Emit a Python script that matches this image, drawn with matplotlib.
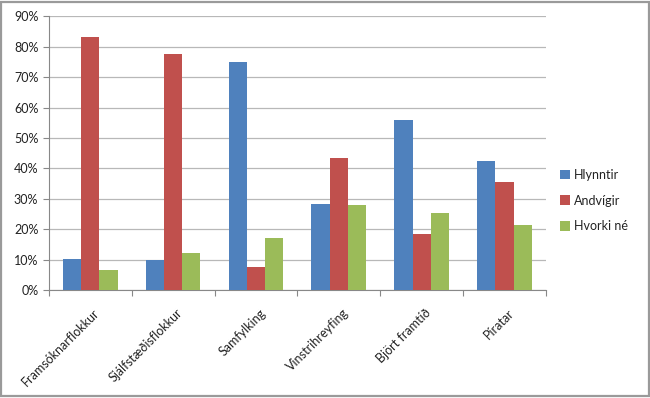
import matplotlib
matplotlib.use('Agg')
import matplotlib.pyplot as plt
import numpy as np
from matplotlib.patches import Rectangle
from matplotlib.ticker import PercentFormatter, MultipleLocator

plt.rcParams['font.family'] = ['Lato', 'DejaVu Sans']

flokkar = ["Framsóknarflokkur", "Sjálfstæðisflokkur", "Samfylking",
           "Vinstrihreyfing", "Björt framtíð", "Píratar"]
hlynntir = [10.2, 9.9, 75.1, 28.4, 55.9, 42.6]
andvigir = [83.3, 77.5, 7.7, 43.3, 18.5, 35.6]
hvorki = [6.6, 12.1, 17.1, 27.9, 25.5, 21.3]

series = [("Hlynntir", hlynntir, '#4F81BD'),
          ("Andvígir", andvigir, '#C0504D'),
          ("Hvorki né", hvorki, '#9BBB59')]

fig = plt.figure(figsize=(6.5, 3.98), dpi=100)
ax = fig.add_axes([0.075, 0.271, 0.765, 0.688])

x = np.arange(len(flokkar))
width = 0.22
for i, (name, vals, col) in enumerate(series):
    ax.bar(x + (i - 1) * width, vals, width, color=col, label=name, zorder=3)

ax.set_xlim(-0.5, len(flokkar) - 0.5)
ax.set_ylim(0, 90)
ax.yaxis.set_major_locator(MultipleLocator(10))
ax.yaxis.set_major_formatter(PercentFormatter(decimals=0))
ax.grid(axis='y', color='#b8b8b8', linewidth=0.9, zorder=0)

# category boundary ticks like Excel
ax.set_xticks(np.arange(-0.5, len(flokkar), 1.0))
ax.set_xticklabels([])
ax.tick_params(axis='x', length=4, color='#888888')
for xi, lab in zip(x, flokkar):
    ax.text(xi + 0.04, -5.5, lab, rotation=45, ha='right', va='top',
            rotation_mode='anchor', fontsize=9, color='#222222')
ax.tick_params(axis='y', length=4, color='#888888', labelsize=9,
               labelcolor='#222222')

for s in ['top', 'right']:
    ax.spines[s].set_visible(False)
for s in ['left', 'bottom']:
    ax.spines[s].set_color('#888888')

# legend placed in figure coords (left edge of handles ~ x=566px)
leg = fig.legend(*ax.get_legend_handles_labels(), loc='center left',
                 bbox_to_anchor=(0.862, 0.496), frameon=False, borderaxespad=0,
                 borderpad=0, fontsize=9, handlelength=0.8, handleheight=0.8,
                 handletextpad=0.3, labelspacing=1.1)
for t in leg.get_texts():
    t.set_color('#222222')

fig.patches.append(Rectangle((0.002, 0.004), 0.996, 0.992, transform=fig.transFigure,
                             fill=False, edgecolor='#9a9a9a', linewidth=1.6))

plt.savefig("out.png", dpi=100)
